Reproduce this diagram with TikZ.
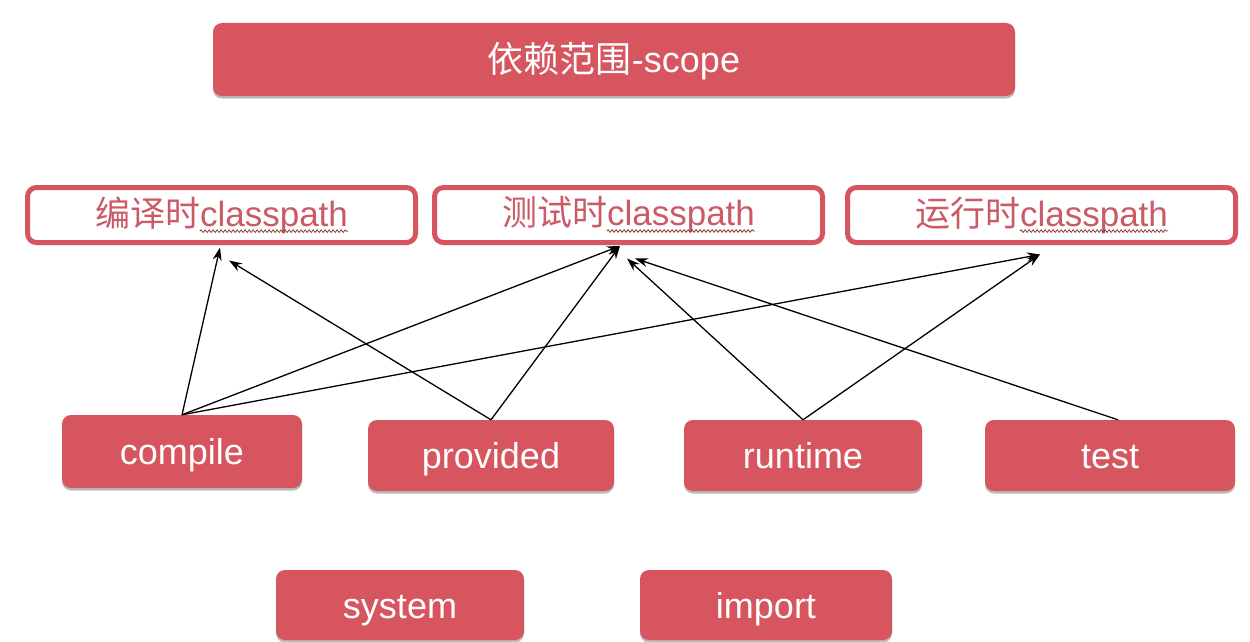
\documentclass[tikz,border=0pt]{standalone}
\usepackage{fontspec}
\setmainfont{Liberation Sans}
\newfontfamily\cjk{Noto Sans CJK SC}
\usetikzlibrary{arrows.meta,shadows,decorations.pathmorphing}
\definecolor{boxred}{HTML}{D6555F}
\definecolor{cptext}{HTML}{CC5A66}
\definecolor{wavecol}{HTML}{8A3A2A}
\begin{document}
\begin{tikzpicture}[x=1pt,y=-1pt,
  redbox/.style={draw=none, fill=boxred, rounded corners=9pt, text=white,
    font=\fontsize{36}{40}\selectfont, inner sep=0pt, text height=32pt, text depth=6pt,
    drop shadow={shadow xshift=0pt, shadow yshift=-2.5pt, opacity=0.45, fill=black!60}},
  cpbox/.style={draw=boxred, line width=5pt, fill=white, rounded corners=9pt,
    minimum width=388pt, minimum height=55pt, inner sep=0pt,
    drop shadow={shadow xshift=0pt, shadow yshift=-2.5pt, opacity=0.4, fill=black!60}},
  cptxt/.style={text=cptext, inner sep=0pt, font=\fontsize{35}{40}\selectfont},
  cpword/.style={inner sep=0pt, anchor=base east, font=\fontsize{35}{40}\selectfont},
  squig/.style={wavecol, line width=0.8pt, decorate, decoration={snake, amplitude=1.3pt, segment length=4pt}},
  arr/.style={-{Stealth[length=13pt,width=9pt]}, line width=1.3pt, black}]
\useasboundingbox (0,0) rectangle (1250,642);
\fill[white] (0,0) rectangle (1250,642);

\node[redbox, minimum width=802pt, minimum height=73pt] (scope) at (614,59.5) {{\cjk 依赖范围}-scope};

\node[cpbox] (cp1) at (221.5,215) {};
\node[cpbox] (cp2) at (628.5,215) {};
\node[cpbox] (cp3) at (1041.5,215) {};
\node[cptxt] (t1) at (cp1.center) {{\cjk 编译时}classpath};
\node[cptxt] (t2) at (cp2.center) {{\cjk 测试时}classpath};
\node[cptxt] (t3) at (cp3.center) {{\cjk 运行时}classpath};
\node[cpword] (w1) at (t1.base east) {\phantom{classpath}};
\node[cpword] (w2) at (t2.base east) {\phantom{classpath}};
\node[cpword] (w3) at (t3.base east) {\phantom{classpath}};
\draw[squig] ([yshift=-5pt]w1.base west) -- ([yshift=-5pt]w1.base east);
\draw[squig] ([yshift=-5pt]w2.base west) -- ([yshift=-5pt]w2.base east);
\draw[squig] ([yshift=-5pt]w3.base west) -- ([yshift=-5pt]w3.base east);

\node[redbox, minimum width=240pt, minimum height=73pt] (compile) at (182,451.5) {compile};
\node[redbox, minimum width=246pt, minimum height=71pt] (provided) at (491,455.5) {provided};
\node[redbox, minimum width=238pt, minimum height=71pt] (runtime) at (803,455.5) {runtime};
\node[redbox, minimum width=250pt, minimum height=71pt] (test) at (1110,455.5) {test};
\node[redbox, minimum width=248pt, minimum height=70pt] (system) at (400,605) {system};
\node[redbox, minimum width=252pt, minimum height=70pt] (import) at (766,605) {import};

\draw[arr] (compile.north) -- ([shift={(-1.5,2.5)}]cp1.south);
\draw[arr] (compile.north) -- ([shift={(-8.5,1)}]cp2.south);
\draw[arr] (compile.north) -- ([shift={(-1.5,9.5)}]cp3.south);
\draw[arr] (provided.north) -- ([shift={(7.5,15.5)}]cp1.south);
\draw[arr] (provided.north) -- ([shift={(-8.5,1)}]cp2.south);
\draw[arr] (runtime.north) -- ([shift={(-1.5,13.5)}]cp2.south);
\draw[arr] (runtime.north) -- ([shift={(-1.5,9.5)}]cp3.south);
\draw[arr] ([xshift=8pt]test.north) -- ([shift={(6.5,13.5)}]cp2.south);
\end{tikzpicture}
\end{document}
